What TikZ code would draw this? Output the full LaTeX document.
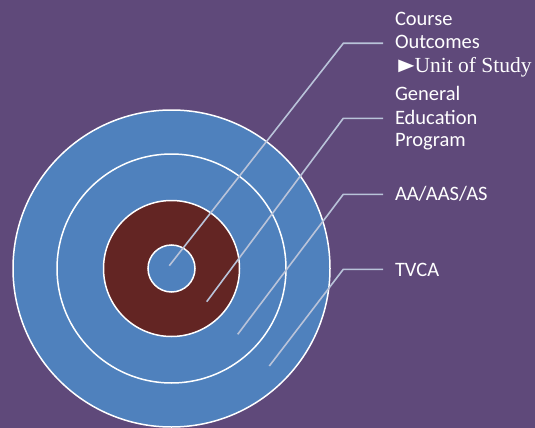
\documentclass[tikz,border=0pt]{standalone}
\usepackage{fontspec}
\setmainfont{Carlito}
\newfontfamily\seriffont{Liberation Serif}
\definecolor{bgpurple}{HTML}{5F497A}
\definecolor{ringblue}{HTML}{4F81BD}
\definecolor{ringred}{HTML}{632523}
\definecolor{leader}{HTML}{B9C3D9}
\begin{document}
\begin{tikzpicture}[x=1pt,y=-1pt,
  ring/.style={draw=white,line width=1.5pt},
  leaderline/.style={draw=leader,line width=1.6pt},
  label/.style={anchor=base west,text=white,inner xsep=12pt,inner ysep=0pt,outer sep=0pt,
    font=\fontsize{20.5}{23.5}\selectfont}]
  % background
  \fill[bgpurple] (0,0) rectangle (535,428);
  \useasboundingbox (0,0) rectangle (535,428);
  % target rings
  \coordinate (ctr) at (171.5,268.5);
  \path[ring,fill=ringblue] (ctr) circle[radius=158.5pt];
  \path[ring,fill=ringblue] (ctr) circle[radius=114.5pt];
  \path[ring,fill=ringred]  (ctr) circle[radius=68pt];
  \path[ring,fill=ringblue] (ctr) circle[radius=23.5pt];
  % labels
  \node[label] (t-course)   at (383,26)    {Course};
  \node[label] (t-outcomes) at (383,48.3)  {Outcomes};
  \node[label] (t-unit)     at (383,72.7)  {\seriffont\fontsize{21.5}{24}\selectfont
    \kern-2pt\scalebox{1.25}[1]{►}\kern-5pt Unit of Study};
  \node[label] (t-general)  at (383,100)   {General};
  \node[label] (t-educ)     at (383,124.3) {Education};
  \node[label] (t-program)  at (383,146.7) {Program};
  \node[label] (t-aa)       at (383,200.7) {AA/AAS/AS};
  \node[label] (t-tvca)     at (383,276)   {TVCA};
  % leader lines
  \coordinate (p1) at (169.3,265.7); \coordinate (k1) at (343.3,43.3);
  \coordinate (p2) at (206.7,301.7); \coordinate (k2) at (343.3,118.3);
  \coordinate (p3) at (237.7,334.3); \coordinate (k3) at (343.3,194.3);
  \coordinate (p4) at (269.3,366);   \coordinate (k4) at (343.3,269.3);
  \draw[leaderline] (p1) -- (k1) -- (k1 -| t-outcomes.west);
  \draw[leaderline] (p2) -- (k2) -- (k2 -| t-educ.west);
  \draw[leaderline] (p3) -- (k3) -- (k3 -| t-aa.west);
  \draw[leaderline] (p4) -- (k4) -- (k4 -| t-tvca.west);
\end{tikzpicture}
\end{document}
